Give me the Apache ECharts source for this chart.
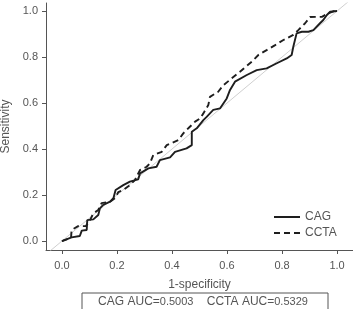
<!DOCTYPE html>
<html>
<head>
<meta charset="utf-8">
<script src="https://cdn.jsdelivr.net/npm/echarts@6/dist/echarts.min.js"></script>
<style>
  html, body { margin: 0; padding: 0; background: #fff; }
  #chart { width: 353px; height: 309px; }
</style>
</head>
<body>
<div id="chart"></div>
<script>
// ROC points: [1-specificity, sensitivity]
var cagRoc = [
  [0, 0], [0.035, 0.016], [0.065, 0.022], [0.072, 0.045], [0.09, 0.048], [0.092, 0.091],
  [0.114, 0.094], [0.132, 0.113], [0.138, 0.142], [0.15, 0.157], [0.175, 0.171], [0.187, 0.186],
  [0.195, 0.222], [0.223, 0.243], [0.247, 0.258], [0.277, 0.268], [0.284, 0.294], [0.314, 0.316],
  [0.344, 0.323], [0.356, 0.352], [0.393, 0.364], [0.411, 0.388], [0.453, 0.403], [0.472, 0.417],
  [0.472, 0.475], [0.49, 0.49], [0.514, 0.526], [0.526, 0.54], [0.55, 0.57], [0.575, 0.577],
  [0.599, 0.62], [0.611, 0.657], [0.629, 0.693], [0.672, 0.722], [0.708, 0.743], [0.744, 0.751],
  [0.781, 0.773], [0.817, 0.794], [0.835, 0.809], [0.841, 0.845], [0.853, 0.903], [0.872, 0.91],
  [0.896, 0.91], [0.914, 0.917], [0.938, 0.947], [0.95, 0.961], [0.963, 0.983], [0.975, 0.997],
  [1, 1]
];
var cctaRoc = [
  [0, 0], [0.017, 0.007], [0.033, 0.013], [0.035, 0.048], [0.059, 0.065], [0.087, 0.065],
  [0.102, 0.091], [0.114, 0.12], [0.132, 0.135], [0.144, 0.165], [0.175, 0.171], [0.193, 0.187],
  [0.205, 0.213], [0.223, 0.222], [0.247, 0.243], [0.265, 0.265], [0.284, 0.309], [0.308, 0.323],
  [0.32, 0.338], [0.332, 0.374], [0.363, 0.388], [0.381, 0.417], [0.423, 0.439], [0.441, 0.468],
  [0.465, 0.497], [0.484, 0.519], [0.502, 0.533], [0.514, 0.555], [0.532, 0.591], [0.538, 0.627],
  [0.568, 0.649], [0.587, 0.678], [0.617, 0.707], [0.647, 0.736], [0.69, 0.78], [0.714, 0.809],
  [0.744, 0.83], [0.775, 0.852], [0.805, 0.874], [0.841, 0.896], [0.859, 0.917], [0.884, 0.947],
  [0.902, 0.974], [0.945, 0.975], [0.968, 0.99], [0.989, 1], [1, 1]
];
var diagonal = [[-0.1, -0.1], [1.1, 1.1]];
var tickValues = [0, 0.2, 0.4, 0.6, 0.8, 1.0];
var seriesNames = ['CAG', 'CCTA'];
var aucText = ['CAG AUC=', '0.5003', 'CCTA AUC=', '0.5329'];

var font = '"Liberation Sans", Arial, sans-serif';
var grey = '#555';
var ink = '#1e1e1e';

var chart = echarts.init(document.getElementById('chart'));
var option = {
    animation: false,
    grid: { left: 46, right: 0, top: 3, bottom: 59, outerBoundsMode: 'none', containLabel: false },
    xAxis: {
        type: 'value',
        min: -0.058,
        max: 1.058,
        name: '1-specificity',
        nameLocation: 'middle',
        nameGap: 29,
        nameTextStyle: { color: grey, fontSize: 12, fontFamily: font },
        axisLine: { onZero: false, lineStyle: { color: grey, width: 1 } },
        axisTick: { customValues: tickValues, length: 4, lineStyle: { color: grey } },
        axisLabel: {
            customValues: tickValues,
            margin: 10,
            color: grey, fontSize: 11, fontFamily: font,
            formatter: function (v) { return v.toFixed(1); }
        },
        splitLine: { show: false }
    },
    yAxis: {
        type: 'value',
        min: -0.039,
        max: 1.035,
        name: 'Sensitivity',
        nameLocation: 'middle',
        nameGap: 30,
        nameTextStyle: { color: grey, fontSize: 12, fontFamily: font },
        axisLine: { show: true, onZero: false, lineStyle: { color: grey, width: 1 } },
        axisTick: { show: true, customValues: tickValues, length: 4, lineStyle: { color: grey } },
        axisLabel: {
            customValues: tickValues,
            margin: 8,
            color: grey, fontSize: 11, fontFamily: font,
            formatter: function (v) { return v.toFixed(1); }
        },
        splitLine: { show: false }
    },
    legend: {
        data: seriesNames,
        orient: 'vertical',
        left: 268,
        top: 206,
        itemWidth: 26,
        itemHeight: 14,
        itemGap: 4,
        itemStyle: { opacity: 0 },
        textStyle: { color: grey, fontSize: 12, fontFamily: font }
    },
    series: [
        {
            type: 'line',
            data: diagonal,
            symbol: 'none',
            silent: true,
            lineStyle: { color: '#cfcfcf', width: 1 },
            z: 1
        },
        {
            name: seriesNames[0],
            type: 'line',
            data: cagRoc,
            symbol: 'none',
            color: ink,
            lineStyle: { color: ink, width: 1.9 },
            z: 3
        },
        {
            name: seriesNames[1],
            type: 'line',
            data: cctaRoc,
            symbol: 'none',
            color: ink,
            lineStyle: { color: ink, width: 1.9, type: [6, 4] },
            z: 2
        }
    ],
    graphic: [
        {
            type: 'rect',
            shape: { x: 82, y: 293, width: 246, height: 30 },
            style: { fill: 'none', stroke: grey, lineWidth: 1 }
        },
        {
            type: 'text',
            x: 203,
            y: 302,
            style: {
                text: '{a|' + aucText[0] + '}{b|' + aucText[1] + '}{a|    ' + aucText[2] + '}{b|' + aucText[3] + '}',
                align: 'center',
                verticalAlign: 'middle',
                rich: {
                    a: { fontSize: 12, fill: grey, fontFamily: font },
                    b: { fontSize: 11, fill: grey, fontFamily: font }
                }
            }
        }
    ]
};
chart.setOption(option);
</script>
</body>
</html>
